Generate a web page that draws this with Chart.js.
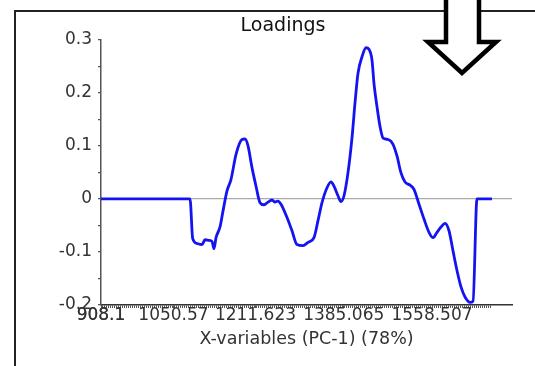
<!DOCTYPE html>
<html>
<head>
<meta charset="utf-8">
<script src="https://cdn.jsdelivr.net/npm/chart.js@4/dist/chart.umd.min.js"></script>
<style>
  html, body { margin: 0; padding: 0; background: #fff; }
  #wrap { width: 535px; height: 366px; position: relative; }
</style>
</head>
<body>
<div id="wrap"><canvas id="loadingsChart"></canvas></div>
<script>
// PC-1 loadings against wavenumber
const wavenumbers = [
  908.1, 1083.0, 1088.3, 1096.7, 1106.6, 1112.5, 1120.3, 1126.2, 1130.1, 1134.1,
  1141.9, 1147.8, 1155.7, 1163.6, 1173.4, 1185.2, 1191.1, 1197.0, 1204.8, 1212.7,
  1220.5, 1228.4, 1236.3, 1244.1, 1250.0, 1255.9, 1261.8, 1273.6, 1283.4, 1293.2,
  1305.0, 1314.9, 1326.6, 1334.5, 1342.4, 1352.2, 1360.1, 1365.9, 1373.8, 1379.7,
  1385.6, 1393.5, 1401.3, 1407.2, 1413.1, 1421.0, 1428.8, 1434.7, 1440.6, 1444.5,
  1450.4, 1456.3, 1462.2, 1472.1, 1481.9, 1489.7, 1497.6, 1505.5, 1515.3, 1523.1,
  1533.0, 1542.8, 1552.6, 1560.5, 1568.3, 1576.2, 1584.1, 1591.9, 1599.8, 1607.6,
  1615.5, 1623.4, 1633.2, 1639.1, 1646.9, 1676.4
];
const loadings = [
  0, 0, -0.075, -0.084, -0.086, -0.077, -0.078, -0.080, -0.094, -0.073,
  -0.053, -0.023, 0.015, 0.037, 0.084, 0.112, 0.113, 0.100, 0.059, 0.024,
  -0.007, -0.011, -0.006, -0.002, -0.006, -0.004, -0.010, -0.035, -0.060, -0.086,
  -0.088, -0.082, -0.073, -0.041, -0.007, 0.021, 0.032, 0.024, 0.006, -0.005,
  0.006, 0.050, 0.115, 0.181, 0.237, 0.268, 0.285, 0.282, 0.262, 0.218,
  0.174, 0.137, 0.115, 0.112, 0.103, 0.081, 0.049, 0.032, 0.026, 0.018,
  -0.010, -0.038, -0.063, -0.073, -0.063, -0.053, -0.046, -0.060, -0.098, -0.135,
  -0.166, -0.185, -0.195, -0.193, 0, 0
];
const xLabels = [908.1, 1050.57, 1211.623, 1385.065, 1558.507];
const yTicks = [-0.2, -0.15, -0.1, -0.05, 0, 0.05, 0.1, 0.15, 0.2, 0.25, 0.3];

const xMin = 908.1;
const xMax = 1715.7;
const minorEnd = 1676.4;
const minorStep = 3.92;
const fontFamily = "DejaVu Sans, sans-serif";

// frame lines and the big outlined arrow
const decorations = {
  id: "decorations",
  afterDraw(chart) {
    const ctx = chart.ctx;
    ctx.save();
    ctx.strokeStyle = "#222";
    ctx.lineWidth = 2;
    ctx.beginPath();
    ctx.moveTo(15, 366);
    ctx.lineTo(15, 11);
    ctx.lineTo(535, 11);
    ctx.stroke();

    ctx.beginPath();
    ctx.moveTo(446, -6);
    ctx.lineTo(446, 42);
    ctx.lineTo(428, 42);
    ctx.lineTo(462, 73);
    ctx.lineTo(496, 42);
    ctx.lineTo(479, 42);
    ctx.lineTo(479, -6);
    ctx.closePath();
    ctx.fillStyle = "#fff";
    ctx.fill();
    ctx.lineWidth = 4.5;
    ctx.lineJoin = "miter";
    ctx.strokeStyle = "#000";
    ctx.stroke();
    ctx.restore();
  }
};

const points = wavenumbers.map((w, i) => ({ x: w, y: loadings[i] }));

new Chart(document.getElementById("loadingsChart"), {
  type: "line",
  data: {
    datasets: [{
      data: points,
      borderColor: "#1414f2",
      borderWidth: 2.8,
      pointRadius: 0,
      cubicInterpolationMode: "monotone",
      fill: false
    }]
  },
  options: {
    responsive: true,
    maintainAspectRatio: false,
    animation: false,
    layout: { padding: { left: 54, right: 23, top: 0, bottom: 0 } },
    plugins: {
      legend: { display: false },
      tooltip: { enabled: false },
      title: {
        display: true,
        text: "Loadings",
        color: "#111",
        font: { family: fontFamily, size: 19, weight: "normal" },
        padding: { top: 15, bottom: 2 }
      }
    },
    scales: {
      x: {
        type: "linear",
        min: xMin,
        max: xMax,
        afterBuildTicks(scale) {
          const ticks = [];
          for (let v = xMin; v <= minorEnd + 0.01; v += minorStep) ticks.push({ value: v });
          xLabels.forEach(v => ticks.push({ value: v }));
          ticks.sort((a, b) => a.value - b.value);
          scale.ticks = ticks;
        },
        afterFit(scale) { scale.height = 61; },
        ticks: {
          autoSkip: false,
          maxRotation: 0,
          padding: -3,
          color: "#333",
          font: { family: fontFamily, size: 17 },
          callback: (v) => {
            const hit = xLabels.find(l => Math.abs(l - v) < 1e-6);
            return hit !== undefined ? String(hit) : "";
          }
        },
        grid: { drawOnChartArea: false, tickLength: 3, color: "#555", lineWidth: 1 },
        border: { color: "#333", width: 1.5 },
        title: {
          display: true,
          text: "X-variables (PC-1) (78%)",
          color: "#333",
          font: { family: fontFamily, size: 17.5 },
          padding: { top: 0, bottom: 16 }
        }
      },
      y: {
        min: -0.2,
        max: 0.3,
        afterBuildTicks(scale) {
          scale.ticks = yTicks.map(v => ({ value: v }));
        },
        afterFit(scale) { scale.width = 47; },
        ticks: {
          padding: 6,
          color: "#333",
          font: { family: fontFamily, size: 17 },
          callback: (v) => {
            const tenths = Math.round(v * 100);
            return tenths % 10 === 0 ? String(tenths / 100) : "";
          }
        },
        grid: {
          tickLength: 3,
          tickColor: "#555",
          color: (c) => (c.tick && c.tick.value === 0 ? "#aaa" : "rgba(0,0,0,0)"),
          lineWidth: 1.2
        },
        border: { color: "#555", width: 1.5 }
      }
    }
  },
  plugins: [decorations]
});
</script>
</body>
</html>
